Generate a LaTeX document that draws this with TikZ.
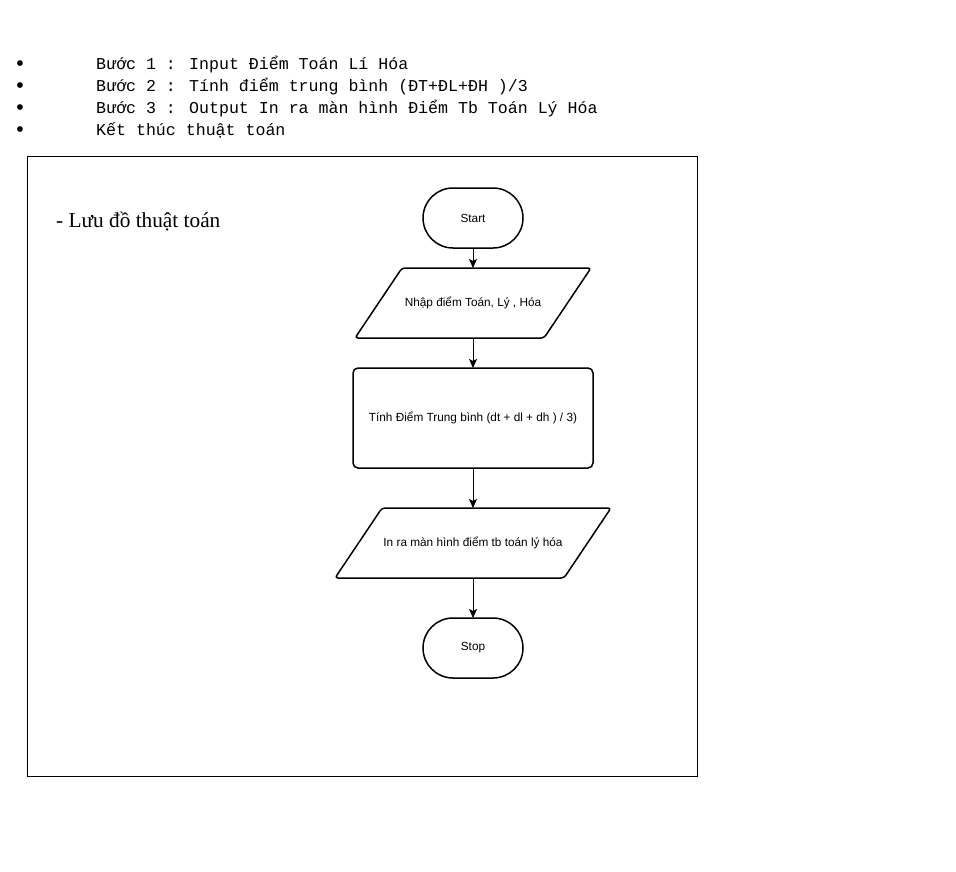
\documentclass[tikz,border=0pt]{standalone}
\usepackage{fontspec}
\setmainfont{Liberation Sans}
\newfontfamily\monofont{Liberation Mono}
\newfontfamily\seriffont{Liberation Serif}
\usetikzlibrary{positioning,arrows.meta}
\tikzset{
  terminal/.style={draw,line width=1.5pt,rectangle,rounded corners=30pt,minimum width=100pt,minimum height=60pt,inner sep=0pt,outer sep=0pt},
  io/.style={rectangle,minimum height=70pt,inner sep=0pt,outer sep=0pt},
  iobox/.style={line width=1.5pt,rounded corners=3pt},
  process/.style={draw,line width=1.5pt,rectangle,rounded corners=5pt,minimum width=240pt,minimum height=100pt,inner sep=0pt,outer sep=0pt},
  flow/.style={-{Stealth[length=9pt,width=8pt,inset=2pt]},line width=1pt}
}
\begin{document}
\begin{tikzpicture}[x=1pt,y=-1pt,font=\fontsize{11.8}{14}\selectfont]
\useasboundingbox[fill=white] (0,0) rectangle (956,872);
\foreach \t [count=\i from 0] in {{Bước 1 : Input Điểm Toán Lí Hóa},{Bước 2 : Tính điểm trung bình (ĐT+ĐL+ĐH )/3},{Bước 3 : Output In ra màn hình Điểm Tb Toán Lý Hóa},{Kết thúc thuật toán}}{
  \node[anchor=base,inner sep=0pt,font=\fontsize{21}{22}\selectfont] (bullet\i) at (20,71+22*\i) {•};
  \node[anchor=base west,inner sep=0pt,font=\monofont\fontsize{16.6}{18}\selectfont] (buoc\i) at (96,70+22*\i) {\t};
}
\draw[line width=0.8pt] (27,156) rectangle (697,776);
\node[anchor=base west,inner sep=0pt,font=\seriffont\fontsize{21.3}{24}\selectfont] (title) at (56,227) {- Lưu đồ thuật toán};

\node[terminal] (start) at (473,218) {Start};
\node[io,minimum width=189pt,below=20pt of start] (nhap) {Nhập điểm Toán, Lý , Hóa};
\node[process,below=30pt of nhap] (tinh) {Tính Điểm Trung bình (dt + dl + dh ) / 3)};
\node[io,minimum width=229pt,below=40pt of tinh] (inra) {In ra màn hình điểm tb toán lý hóa};
\node[terminal,below=40pt of inra] (stop) {Stop};

% parallelograms for input / output
\foreach \n in {nhap,inra}
  \draw[iobox] ([xshift=23.5pt]\n.north west) -- ([xshift=23.5pt]\n.north east) -- ([xshift=-23.5pt]\n.south east) -- ([xshift=-23.5pt]\n.south west) -- cycle;

\draw[flow] (start) -- (nhap);
\draw[flow] (nhap) -- (tinh);
\draw[flow] (tinh) -- (inra);
\draw[flow] (inra) -- (stop);
\end{tikzpicture}
\end{document}
